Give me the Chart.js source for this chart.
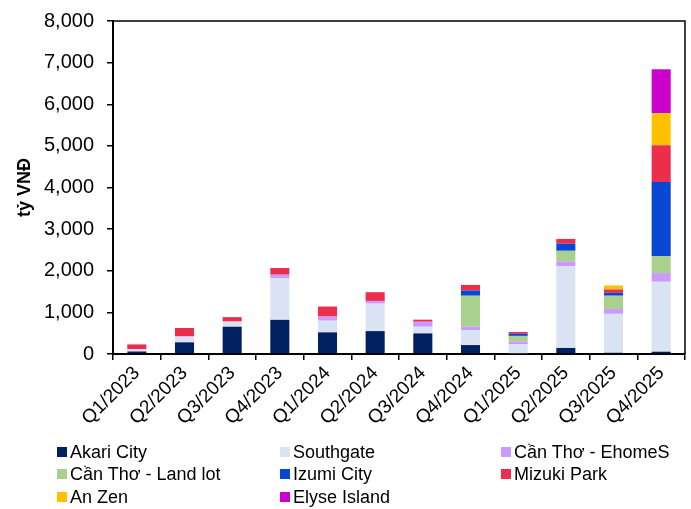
<!DOCTYPE html>
<html>
<head>
<meta charset="utf-8">
<script src="https://cdn.jsdelivr.net/npm/chart.js@4.4.1/dist/chart.umd.min.js"></script>
<style>
  body { margin: 0; background: #fff; }
  #wrap { position: relative; width: 691px; height: 509px; font-family: "Liberation Sans", Arial, sans-serif; }
  #legend { position: absolute; left: 0; top: 0; width: 691px; height: 509px; pointer-events: none; }
  .item { position: absolute; font-size: 18px; color: #000; white-space: nowrap; line-height: 20px; }
  .item span.box { display: inline-block; width: 10px; height: 10px; margin-right: 3px; vertical-align: 1px; }
</style>
</head>
<body>
<div id="wrap">
  <canvas id="c" width="691" height="509"></canvas>
  <div id="legend"></div>
</div>
<script>
// quarters on the x axis
const quarters = ['Q1/2023','Q2/2023','Q3/2023','Q4/2023','Q1/2024','Q2/2024','Q3/2024','Q4/2024','Q1/2025','Q2/2025','Q3/2025','Q4/2025']

// stacked series, tỷ VNĐ
const akari     = [60, 280, 655, 820, 520, 550, 495, 215, 0, 145, 30, 55]
const southgate = [50, 135, 125, 1005, 280, 660, 160, 360, 230, 1970, 935, 1680]
const ehomes    = [10, 10, 0, 80, 100, 65, 120, 80, 70, 110, 115, 210]
const landlot   = [0, 0, 0, 0, 0, 0, 0, 745, 135, 255, 320, 405]
const izumi     = [0, 0, 0, 0, 0, 0, 0, 125, 50, 170, 70, 1780]
const mizuki    = [110, 200, 105, 160, 240, 210, 50, 135, 45, 115, 80, 885]
const anzen     = [0, 0, 0, 0, 0, 0, 0, 0, 0, 0, 95, 770]
const elyse     = [0, 0, 0, 0, 0, 0, 0, 0, 0, 0, 0, 1055]

const yTicks = [0, 1000, 2000, 3000, 4000, 5000, 6000, 7000, 8000]

const series = [
  { label: 'Akari City', data: akari, color: '#002060' },
  { label: 'Southgate', data: southgate, color: '#DAE3F3' },
  { label: 'Cần Thơ - EhomeS', data: ehomes, color: '#CC99FF' },
  { label: 'Cần Thơ - Land lot', data: landlot, color: '#A9D18E' },
  { label: 'Izumi City', data: izumi, color: '#0846D6' },
  { label: 'Mizuki Park', data: mizuki, color: '#EC2D4B' },
  { label: 'An Zen', data: anzen, color: '#FFC000' },
  { label: 'Elyse Island', data: elyse, color: '#CC00CC' }
]

const FONT = '"Liberation Sans", Arial, sans-serif'

// top + right frame of the plot area
const frame = {
  id: 'frame',
  afterDraw(chart) {
    const a = chart.chartArea, ctx = chart.ctx
    ctx.save()
    ctx.strokeStyle = '#000'
    ctx.lineWidth = 1.5
    ctx.beginPath()
    ctx.moveTo(a.left, a.top)
    ctx.lineTo(a.right, a.top)
    ctx.lineTo(a.right, a.bottom)
    ctx.stroke()
    ctx.restore()
  }
}

const chart = new Chart(document.getElementById('c'), {
  type: 'bar',
  data: {
    labels: quarters,
    datasets: series.map(s => ({
      label: s.label,
      data: s.data,
      backgroundColor: s.color,
      borderWidth: 0,
      categoryPercentage: 1,
      barPercentage: 0.4
    }))
  },
  options: {
    responsive: false,
    animation: false,
    devicePixelRatio: 1,
    layout: { padding: { top: 21, right: 6, left: 0, bottom: 0 } },
    plugins: { legend: { display: false }, tooltip: { enabled: false } },
    scales: {
      x: {
        stacked: true,
        afterFit(scale) { scale.height = 155 },
        grid: { drawOnChartArea: false, color: '#000', lineWidth: 1.5, tickLength: 6, offset: true },
        border: { color: '#000', width: 2 },
        ticks: { color: '#000', font: { family: FONT, size: 19 }, minRotation: 45, maxRotation: 45, padding: 2 }
      },
      y: {
        stacked: true,
        min: 0,
        max: 8000,
        afterFit(scale) {
          scale.width = 113
          // tick padding would otherwise push the plot top down
          scale.paddingTop = 10
          scale.paddingBottom = 10
        },
        afterBuildTicks(scale) { scale.ticks = yTicks.map(v => ({ value: v })) },
        grid: { drawOnChartArea: false, color: '#000', lineWidth: 1.5, tickLength: 6 },
        border: { color: '#000', width: 2 },
        ticks: { color: '#000', font: { family: FONT, size: 20 }, padding: 13,
          callback: v => v.toLocaleString('en-US') },
        title: { display: true, text: 'tỷ VNĐ', color: '#000', padding: { top: 14, bottom: 0 },
          font: { family: FONT, size: 18, weight: 'bold' } }
      }
    }
  },
  plugins: [frame]
})

// legend, three columns under the chart
const legendCols = [57, 280, 501]
const legendRows = [442, 464, 487]
const lg = document.getElementById('legend')
chart.data.datasets.forEach((ds, i) => {
  const el = document.createElement('div')
  el.className = 'item'
  el.style.left = legendCols[i % 3] + 'px'
  el.style.top = legendRows[Math.floor(i / 3)] + 'px'
  el.innerHTML = '<span class="box" style="background:' + ds.backgroundColor + '"></span>' + ds.label
  lg.appendChild(el)
})
</script>
</body>
</html>
